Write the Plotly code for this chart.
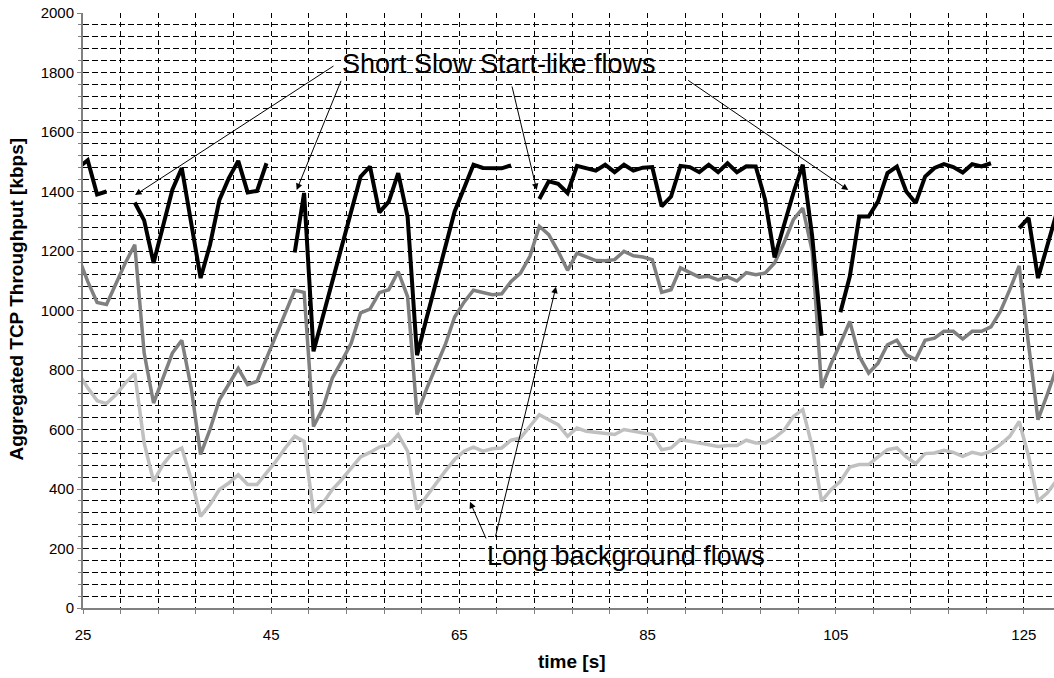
import plotly.graph_objects as go

# time stamps (s)
time_s = [24.5 + i for i in range(105)]

# Short Slow Start-like flows (black), None = gap
short_flows = [
    1480, 1505, 1390, 1400, None, None, 1363, 1303, 1160, 1280,
    1406, 1479, 1300, 1109, 1221, 1372, 1445, 1503, 1397, 1402,
    1495, None, None, 1195, 1395, 863, 980, 1100, 1215, 1330,
    1450, 1484, 1330, 1366, 1462, 1315, 850, 972, 1092, 1213,
    1333, 1411, 1490, 1479, 1478, 1478, 1488, None, None, 1375,
    1434, 1426, 1395, 1486, 1478, 1470, 1490, 1465, 1490, 1470,
    1480, 1482, 1350, 1383, 1486, 1482, 1465, 1490, 1465, 1495,
    1465, 1485, 1484, 1372, 1178, 1290, 1395, 1490, 1250, 915,
    None, 994, 1115, 1316, 1316, 1367, 1462, 1484, 1400, 1361,
    1450, 1479, 1492, 1482, 1464, 1492, 1484, 1495, None, None,
    1277, 1311, 1109, 1220, 1330,
]

# aggregated (dark grey)
aggregate = [
    1180, 1098, 1027, 1020, 1090, 1160, 1221, 857, 689, 773,
    857, 900, 740, 516, 600, 700, 751, 805, 751, 762,
    839, 916, 993, 1068, 1061, 610, 672, 773, 830, 890,
    992, 1005, 1060, 1070, 1131, 1047, 650, 735, 810, 885,
    978, 1028, 1068, 1059, 1053, 1056, 1098, 1126, 1182, 1283,
    1255, 1199, 1135, 1193, 1182, 1168, 1167, 1171, 1199, 1184,
    1180, 1171, 1061, 1070, 1143, 1126, 1112, 1115, 1103, 1113,
    1099, 1127, 1120, 1126, 1160, 1227, 1305, 1344, 1200, 740,
    820, 890, 963, 846, 790, 823, 885, 900, 851, 835,
    900, 907, 930, 930, 904, 930, 930, 945, 997, 1070,
    1150, 885, 633, 719, 810,
]

# Long background flows (light grey)
long_flows = [
    790, 740, 697, 687, 717, 756, 788, 555, 426, 482,
    521, 538, 432, 308, 348, 398, 420, 448, 415, 415,
    454, 493, 538, 577, 560, 320, 353, 398, 432, 471,
    508, 523, 541, 549, 583, 527, 331, 375, 420, 460,
    499, 527, 541, 527, 535, 538, 564, 572, 611, 650,
    633, 616, 577, 605, 594, 591, 588, 583, 600, 594,
    588, 583, 532, 538, 566, 560, 555, 549, 543, 546,
    546, 564, 555, 555, 572, 597, 644, 667, 543, 359,
    398, 426, 474, 482, 482, 508, 532, 538, 508, 485,
    519, 521, 530, 523, 510, 523, 516, 527, 549, 577,
    627, 510, 360, 387, 430,
]

FONT = "Arial, 'Liberation Sans', sans-serif"

fig = go.Figure()
fig.add_trace(go.Scatter(x=time_s, y=long_flows, mode="lines",
                         line=dict(color="#c0c0c0", width=3.5), showlegend=False))
fig.add_trace(go.Scatter(x=time_s, y=aggregate, mode="lines",
                         line=dict(color="#808080", width=3.5), showlegend=False))
fig.add_trace(go.Scatter(x=time_s, y=short_flows, mode="lines",
                         line=dict(color="#000000", width=4), showlegend=False,
                         connectgaps=False))

arrow = dict(showarrow=True, arrowhead=2, arrowsize=1.3, arrowwidth=1,
             arrowcolor="black", axref="x", ayref="y", xref="x", yref="y", text="")
# annotation arrows (head x,y ; tail ax,ay)
short_arrows = [(30.53, 1388, 51.78, 1825), (47.71, 1405, 52.49, 1777),
                (73.22, 1405, 70.56, 1758), (106.34, 1405, 89.16, 1777)]
long_arrows = [(66.13, 357, 67.9, 229), (75.27, 1080, 68.79, 234)]
for hx, hy, tx, ty in short_arrows + long_arrows:
    fig.add_annotation(x=hx, y=hy, ax=tx, ay=ty, **arrow)

fig.add_annotation(x=69.2, y=1830, xref="x", yref="y", text="Short Slow Start-like flows",
                   showarrow=False, font=dict(family=FONT, size=27, color="black"),
                   xanchor="center", yanchor="middle")
fig.add_annotation(x=82.7, y=174, xref="x", yref="y", text="Long background flows",
                   showarrow=False, font=dict(family=FONT, size=27, color="black"),
                   xanchor="center", yanchor="middle")

# axis titles
fig.add_annotation(x=-0.068, y=0.52, xref="paper", yref="paper",
                   xanchor="center", yanchor="middle",
                   text="<b>Aggregated TCP Throughput [kbps]</b>", textangle=-90,
                   showarrow=False, font=dict(family=FONT, size=19, color="black"))
fig.add_annotation(x=0.504, y=-0.09, xref="paper", yref="paper",
                   xanchor="center", yanchor="middle",
                   text="<b>time [s]</b>", showarrow=False,
                   font=dict(family=FONT, size=19, color="black"))

fig.update_xaxes(range=[25, 128.2], tick0=25, dtick=20, showgrid=True,
                 gridcolor="#000000", gridwidth=1, griddash="5px,4px",
                 showline=True, linecolor="#808080", linewidth=2,
                 ticks="outside", ticklen=4, tickcolor="#808080",
                 tickfont=dict(family=FONT, size=15, color="black"),
                 ticklabelstandoff=8, zeroline=False,
                 minor=dict(tick0=25, dtick=4, showgrid=True, gridcolor="#000000",
                            gridwidth=1, griddash="5px,4px", ticks="outside",
                            ticklen=4, tickcolor="#808080"))
fig.update_yaxes(range=[0, 2000], tick0=0, dtick=200, showgrid=True,
                 gridcolor="#000000", gridwidth=1, griddash="6px,3px",
                 showline=True, linecolor="#808080", linewidth=2,
                 ticks="outside", ticklen=4, tickcolor="#808080",
                 tickfont=dict(family=FONT, size=15, color="black"),
                 zeroline=False,
                 minor=dict(tick0=0, dtick=40, showgrid=True, gridcolor="#000000",
                            gridwidth=1, griddash="6px,3px", ticks="outside",
                            ticklen=3, tickcolor="#808080"))

fig.update_layout(width=1054, height=678, margin=dict(l=83, r=0, t=13, b=70),
                  paper_bgcolor="white", plot_bgcolor="white",
                  font=dict(family=FONT, color="black"))

fig.write_html("out.html")
